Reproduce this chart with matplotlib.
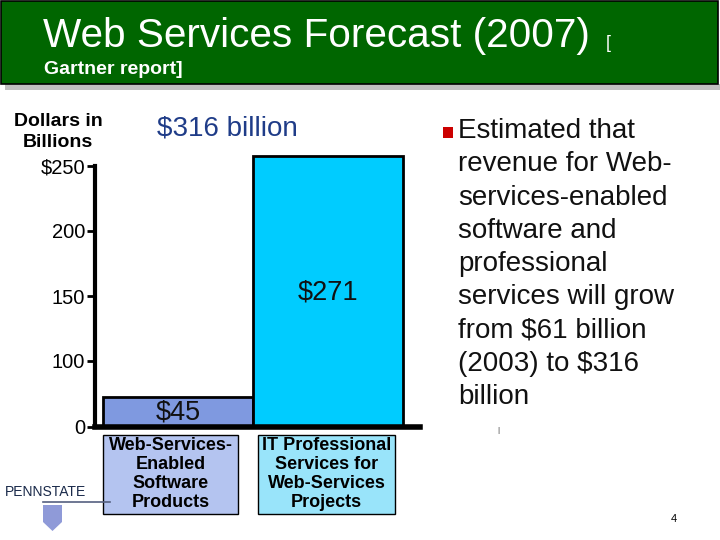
import numpy as np
import matplotlib.pyplot as plt
from matplotlib.patches import Rectangle, Polygon

plt.rcParams['font.family'] = ['Liberation Sans', 'DejaVu Sans']

# data
categories = ["Web-Services-\nEnabled\nSoftware\nProducts",
              "IT Professional\nServices for\nWeb-Services\nProjects"]
values = [45, 271]
value_labels = ["$45", "$271"]
bar_colors = ["#7F99E0", "#00CCFF"]
box_colors = ["#B4C4F0", "#99E4FA"]
ticks = [0, 100, 150, 200, 250]
tick_labels = ["0", "100", "150", "200", "$250"]
total_label = "$316 billion"
bullet_text = ("Estimated that\nrevenue for Web-\nservices-enabled\nsoftware and\n"
               "professional\nservices will grow\nfrom $61 billion\n(2003) to $316\nbillion")

# the slide's value axis is not linear: 0-100 is squeezed, top squeezed again
brk_v = [0, 100, 250, 350]
brk_p = [0, 66, 261, 309]
fwd = lambda v: np.interp(v, brk_v, brk_p)
inv = lambda p: np.interp(p, brk_p, brk_v)

W, H = 720, 540
fig = plt.figure(figsize=(7.2, 5.4), dpi=100)

def fx(x): return x / W
def fy(y): return 1 - y / H

# header
fig.patches.append(Rectangle((fx(5), fy(90)), fx(715), 6 / H, transform=fig.transFigure,
                             facecolor="#C0C0C0", edgecolor="none"))
fig.patches.append(Rectangle((fx(1), fy(84)), fx(717), 83 / H, transform=fig.transFigure,
                             facecolor="#006600", edgecolor="black", linewidth=1.2))
fig.text(fx(43), fy(36), "Web Services Forecast (2007)", color="white", fontsize=29.2,
         va="center", ha="left")
fig.text(fx(606), fy(43), "[", color="white", fontsize=13, va="center", ha="left")
fig.text(fx(44), fy(70), "Gartner report]", color="white", fontsize=14, fontweight="bold",
         va="center", ha="left")

# chart
ax = fig.add_axes([fx(95), fy(427), 325 / W, 261 / H])
ax.set_yscale("function", functions=(fwd, inv))
x = np.arange(len(values))
bars = ax.bar(x, values, width=1.0, color=bar_colors, edgecolor="black", linewidth=2,
              clip_on=False, zorder=2)
ax.set_xlim(-0.553, 1.613)
ax.set_ylim(0, 250)
ax.set_yticks(ticks)
ax.set_yticklabels(tick_labels, fontsize=14.5)
ax.set_xticks([])
for s in ["top", "right"]:
    ax.spines[s].set_visible(False)
ax.spines["left"].set_linewidth(3)
ax.spines["bottom"].set_linewidth(4)
ax.spines["bottom"].set_zorder(3)
ax.tick_params(axis="y", length=6, width=2, pad=1)

ax.text(0, 22, value_labels[0], ha="center", va="center", fontsize=19.5, color="#111111")
ax.text(1, 153, value_labels[1], ha="center", va="center", fontsize=19.5, color="#111111")

fig.text(fx(58), fy(132), "Dollars in\nBillions", ha="center", va="center", fontsize=14,
         fontweight="bold", linespacing=1.38)
fig.text(fx(227), fy(129), total_label, ha="center", va="center", fontsize=20,
         color="#1F3C88")

# category boxes
box_x = [(103, 238), (258, 395)]
for (x0, x1), lab, c in zip(box_x, categories, box_colors):
    fig.patches.append(Rectangle((fx(x0), fy(514)), (x1 - x0) / W, 79 / H,
                                 transform=fig.transFigure, facecolor=c,
                                 edgecolor="black", linewidth=1))
    fig.text(fx((x0 + x1) / 2), fy(474), lab, ha="center", va="center", fontsize=13,
             fontweight="bold", linespacing=1.17)

# bullet text
fig.patches.append(Rectangle((fx(443), fy(138)), 10 / W, 11 / H, transform=fig.transFigure,
                             facecolor="#CC0000", edgecolor="none"))
fig.text(fx(458), fy(118), bullet_text, ha="left", va="top", fontsize=20,
         color="#111111", linespacing=1.365)
fig.text(fx(498), fy(430), "|", ha="center", va="center", fontsize=6, color="#333333")
fig.text(fx(674), fy(519), "4", ha="center", va="center", fontsize=8)

# Penn State mark
fig.text(fx(5), fy(492), "PENNSTATE", ha="left", va="center", fontsize=10,
         color="#1A2A4A")
fig.lines.append(plt.Line2D([fx(43), fx(110)], [fy(502), fy(502)], transform=fig.transFigure,
                            color="#556080", linewidth=1.2))
shield = [(43, 505), (62, 505), (62, 522), (52.5, 531), (43, 522)]
fig.patches.append(Polygon([(fx(a), fy(b)) for a, b in shield], closed=True,
                           transform=fig.transFigure, facecolor="#8F9AD8", edgecolor="none"))

fig.savefig("out.png", dpi=100)
